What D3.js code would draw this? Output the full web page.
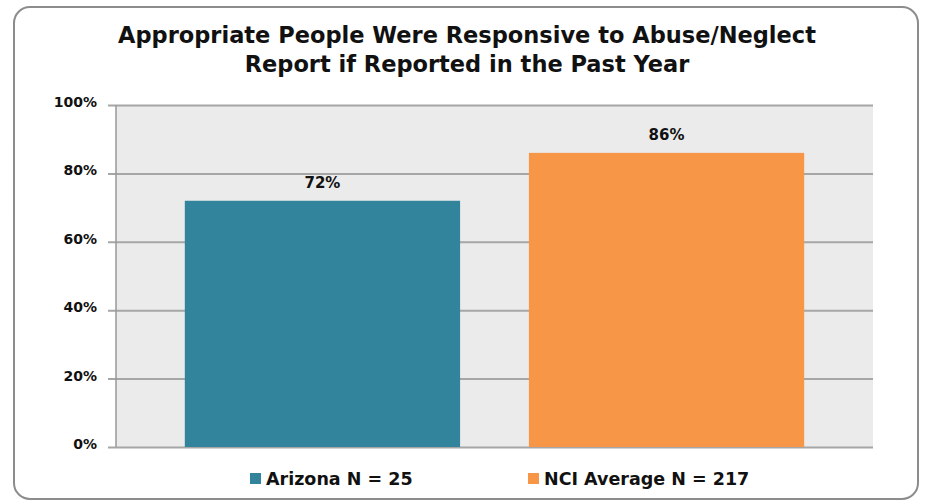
<!DOCTYPE html>
<html>
<head>
<meta charset="utf-8">
<script src="https://cdn.jsdelivr.net/npm/d3@7"></script>
<style>
  body { margin: 0; background: #fff; }
</style>
</head>
<body>
<div id="chart"></div>
<script>
// chart data
const series = ["Arizona N = 25", "NCI Average N = 217"]
const values = [72, 86]
const colors = ["#31849b", "#f79646"]
const yTicks = [0, 20, 40, 60, 80, 100]
const titleLines = ["Appropriate People Were Responsive to Abuse/Neglect", "Report if Reported in the Past Year"]

const width = 925
const height = 502
const plot = { left: 116, right: 873, top: 105, bottom: 447 }
const font = "'DejaVu Sans', Verdana, sans-serif"

const svg = d3.select("#chart")
  .append("svg")
  .attr("width", width)
  .attr("height", height)

// outer rounded frame
svg.append("rect")
  .attr("x", 14)
  .attr("y", 7)
  .attr("width", 904)
  .attr("height", 492)
  .attr("rx", 16)
  .attr("fill", "#fff")
  .attr("stroke", "#8c8c8c")
  .attr("stroke-width", 2)

// title
svg.append("g")
  .selectAll("text")
  .data(titleLines)
  .join("text")
    .attr("x", 467)
    .attr("y", (d, i) => 43 + i * 29)
    .attr("text-anchor", "middle")
    .style("font-family", font)
    .style("font-weight", "bold")
    .style("font-size", "22.5px")
    .style("fill", "#111")
    .text(d => d)

const x = d3.scaleBand()
  .domain(series)
  .range([plot.left, plot.right])
  .paddingInner(0.2)
  .paddingOuter(0.2)

const y = d3.scaleLinear()
  .domain([0, 100])
  .range([plot.bottom, plot.top])

// plot background
svg.append("rect")
  .attr("x", plot.left)
  .attr("y", plot.top)
  .attr("width", plot.right - plot.left)
  .attr("height", plot.bottom - plot.top)
  .attr("fill", "#ebebeb")

// y axis with gridlines
const yAxis = svg.append("g")
  .attr("transform", `translate(${plot.left},0)`)
  .call(d3.axisLeft(y)
    .tickValues(yTicks)
    .tickSize(-(plot.right - plot.left))
    .tickFormat(d => d + "%"))

yAxis.select(".domain").remove()
yAxis.selectAll(".tick line")
  .attr("x1", -8)
  .attr("stroke", "#a6a6a6")
  .attr("stroke-width", 2)
yAxis.selectAll(".tick text")
  .attr("x", -19)
  .attr("dy", "0.1em")
  .style("font-family", font)
  .style("font-weight", "bold")
  .style("font-size", "14px")
  .style("fill", "#111")

// left axis line
svg.append("line")
  .attr("x1", plot.left)
  .attr("x2", plot.left)
  .attr("y1", plot.top)
  .attr("y2", plot.bottom)
  .attr("stroke", "#999")
  .attr("stroke-width", 1.5)

// bars
svg.append("g")
  .selectAll("rect")
  .data(values)
  .join("rect")
    .attr("x", (d, i) => x(series[i]))
    .attr("y", d => y(d))
    .attr("width", x.bandwidth())
    .attr("height", d => y(0) - y(d))
    .attr("fill", (d, i) => colors[i])

// value labels
svg.append("g")
  .selectAll("text")
  .data(values)
  .join("text")
    .attr("x", (d, i) => x(series[i]) + x.bandwidth() / 2)
    .attr("y", d => y(d) - 13)
    .attr("text-anchor", "middle")
    .style("font-family", font)
    .style("font-weight", "bold")
    .style("font-size", "15px")
    .style("fill", "#111")
    .text(d => d + "%")

// legend
const legendX = [250, 528]
const legend = svg.append("g")
  .selectAll("g")
  .data(series)
  .join("g")
    .attr("transform", (d, i) => `translate(${legendX[i]},473)`)

legend.append("rect")
  .attr("width", 11)
  .attr("height", 11)
  .attr("fill", (d, i) => colors[i])

legend.append("text")
  .attr("x", 16)
  .attr("y", 11.5)
  .style("font-family", font)
  .style("font-weight", "bold")
  .style("font-size", "17.5px")
  .style("fill", "#111")
  .text(d => d)
</script>
</body>
</html>
